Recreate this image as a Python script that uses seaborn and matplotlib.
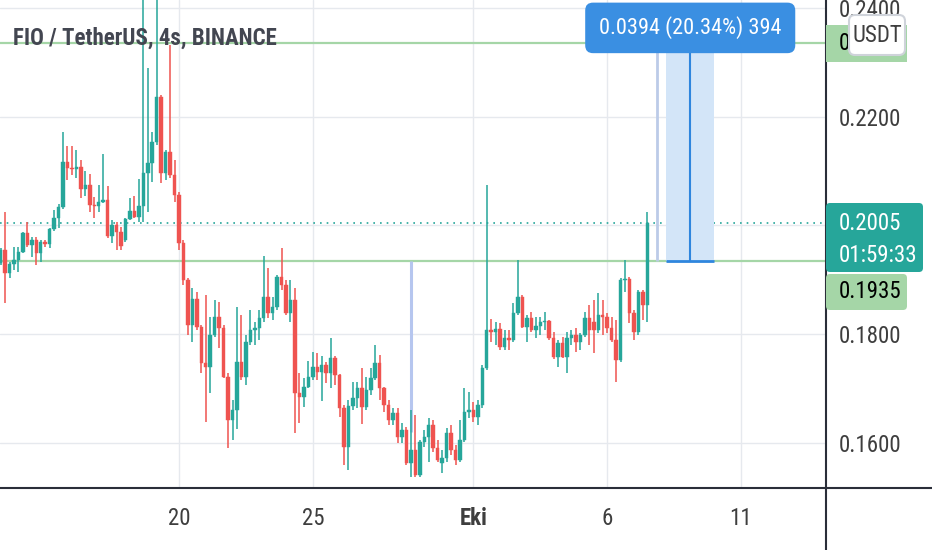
import numpy as np
import pandas as pd
import matplotlib
matplotlib.use("Agg")
import matplotlib.pyplot as plt
from matplotlib.patches import FancyBboxPatch, Rectangle
from matplotlib.lines import Line2D
from matplotlib import font_manager
import seaborn as sns

# 4 saatlik mumlar, FIO/USDT
opens = [0.1931, 0.1954, 0.1912, 0.1929, 0.1936, 0.1951, 0.1986, 0.1964, 0.1973, 0.1949,
         0.1969, 0.1966, 0.1993, 0.2013, 0.2034, 0.2116, 0.2105, 0.2103, 0.2107, 0.2067,
         0.2074, 0.2037, 0.2036, 0.2043, 0.2046, 0.1980, 0.2000, 0.1988, 0.1973, 0.2012,
         0.2026, 0.2015, 0.2036, 0.2096, 0.2115, 0.2153, 0.2236, 0.2096, 0.2135, 0.2092,
         0.2056, 0.1967, 0.1899, 0.1817, 0.1864, 0.1813, 0.1747, 0.1739, 0.1798, 0.1831,
         0.1811, 0.1721, 0.1642, 0.1660, 0.1749, 0.1721, 0.1785, 0.1807, 0.1811, 0.1829,
         0.1868, 0.1839, 0.1850, 0.1905, 0.1890, 0.1839, 0.1863, 0.1692, 0.1684, 0.1703,
         0.1721, 0.1739, 0.1730, 0.1743, 0.1728, 0.1756, 0.1724, 0.1664, 0.1592, 0.1668,
         0.1682, 0.1701, 0.1666, 0.1697, 0.1719, 0.1747, 0.1701, 0.1669, 0.1642, 0.1655,
         0.1611, 0.1623, 0.1563, 0.1587, 0.1541, 0.1601, 0.1611, 0.1633, 0.1590, 0.1563,
         0.1572, 0.1618, 0.1587, 0.1568, 0.1605, 0.1657, 0.1660, 0.1647, 0.1669, 0.1738,
         0.1807, 0.1804, 0.1809, 0.1776, 0.1793, 0.1789, 0.1839, 0.1868, 0.1813, 0.1829,
         0.1807, 0.1815, 0.1822, 0.1824, 0.1793, 0.1758, 0.1784, 0.1758, 0.1793, 0.1798,
         0.1785, 0.1798, 0.1829, 0.1822, 0.1807, 0.1835, 0.1831, 0.1811, 0.1789, 0.1752,
         0.1899, 0.1901, 0.1839, 0.1804, 0.1877, 0.1853]
highs = [0.1958, 0.2024, 0.1932, 0.1960, 0.1960, 0.1988, 0.2006, 0.1978, 0.1978, 0.1973,
         0.1973, 0.1995, 0.2028, 0.2039, 0.2172, 0.2146, 0.2146, 0.2138, 0.2120, 0.2100,
         0.2094, 0.2052, 0.2074, 0.2131, 0.2072, 0.2010, 0.2006, 0.1997, 0.2013, 0.2050,
         0.2054, 0.2085, 0.2450, 0.2289, 0.2172, 0.2460, 0.2240, 0.2138, 0.2332, 0.2120,
         0.2061, 0.1973, 0.1903, 0.1885, 0.1877, 0.1817, 0.1872, 0.1831, 0.1863, 0.1859,
         0.1817, 0.1728, 0.1679, 0.1850, 0.1835, 0.1798, 0.1844, 0.1822, 0.1844, 0.1943,
         0.1921, 0.1868, 0.1909, 0.1958, 0.1899, 0.1899, 0.1885, 0.1728, 0.1719, 0.1750,
         0.1767, 0.1765, 0.1760, 0.1749, 0.1793, 0.1760, 0.1726, 0.1669, 0.1679, 0.1712,
         0.1712, 0.1738, 0.1721, 0.1738, 0.1780, 0.1761, 0.1703, 0.1679, 0.1664, 0.1664,
         0.1636, 0.1629, 0.1660, 0.1651, 0.1605, 0.1623, 0.1646, 0.1642, 0.1605, 0.1587,
         0.1627, 0.1633, 0.1596, 0.1642, 0.1701, 0.1693, 0.1675, 0.1679, 0.1743, 0.2074,
         0.1828, 0.1822, 0.1820, 0.1807, 0.1807, 0.1857, 0.1936, 0.1872, 0.1835, 0.1840,
         0.1831, 0.1831, 0.1840, 0.1826, 0.1804, 0.1789, 0.1795, 0.1804, 0.1807, 0.1811,
         0.1802, 0.1840, 0.1853, 0.1863, 0.1875, 0.1863, 0.1839, 0.1831, 0.1826, 0.1903,
         0.1936, 0.1905, 0.1844, 0.1881, 0.1881, 0.2024]
lows = [0.1927, 0.1857, 0.1903, 0.1918, 0.1914, 0.1949, 0.1960, 0.1942, 0.1927, 0.1932,
        0.1960, 0.1958, 0.1990, 0.1995, 0.2030, 0.2083, 0.2092, 0.2087, 0.2050, 0.2054,
        0.2024, 0.2013, 0.2024, 0.2041, 0.1977, 0.1967, 0.1954, 0.1954, 0.1969, 0.2010,
        0.2013, 0.2006, 0.2006, 0.2024, 0.2080, 0.2148, 0.2078, 0.2083, 0.2087, 0.2043,
        0.1954, 0.1890, 0.1798, 0.1785, 0.1807, 0.1728, 0.1638, 0.1692, 0.1795, 0.1774,
        0.1719, 0.1590, 0.1605, 0.1625, 0.1715, 0.1706, 0.1780, 0.1780, 0.1789, 0.1822,
        0.1829, 0.1826, 0.1844, 0.1881, 0.1835, 0.1822, 0.1618, 0.1636, 0.1666, 0.1701,
        0.1715, 0.1715, 0.1677, 0.1710, 0.1701, 0.1706, 0.1647, 0.1559, 0.1550, 0.1660,
        0.1664, 0.1634, 0.1660, 0.1688, 0.1715, 0.1679, 0.1657, 0.1633, 0.1633, 0.1600,
        0.1600, 0.1559, 0.1537, 0.1537, 0.1537, 0.1592, 0.1565, 0.1583, 0.1565, 0.1544,
        0.1565, 0.1577, 0.1559, 0.1565, 0.1601, 0.1646, 0.1638, 0.1633, 0.1664, 0.1734,
        0.1785, 0.1780, 0.1771, 0.1771, 0.1771, 0.1785, 0.1835, 0.1811, 0.1785, 0.1804,
        0.1793, 0.1798, 0.1807, 0.1789, 0.1754, 0.1739, 0.1756, 0.1728, 0.1780, 0.1767,
        0.1771, 0.1795, 0.1780, 0.1765, 0.1802, 0.1798, 0.1802, 0.1785, 0.1712, 0.1749,
        0.1877, 0.1820, 0.1789, 0.1798, 0.1826, 0.1822]
closes = [0.1954, 0.1912, 0.1929, 0.1936, 0.1951, 0.1986, 0.1964, 0.1973, 0.1949, 0.1969,
          0.1966, 0.1993, 0.2013, 0.2034, 0.2116, 0.2105, 0.2103, 0.2107, 0.2067, 0.2074,
          0.2037, 0.2036, 0.2043, 0.2046, 0.1980, 0.2000, 0.1988, 0.1962, 0.2012, 0.2026,
          0.2015, 0.2036, 0.2096, 0.2115, 0.2153, 0.2236, 0.2096, 0.2135, 0.2092, 0.2056,
          0.1967, 0.1899, 0.1817, 0.1864, 0.1813, 0.1747, 0.1739, 0.1798, 0.1831, 0.1811,
          0.1721, 0.1642, 0.1660, 0.1749, 0.1721, 0.1785, 0.1807, 0.1811, 0.1829, 0.1868,
          0.1839, 0.1850, 0.1905, 0.1890, 0.1839, 0.1863, 0.1692, 0.1684, 0.1703, 0.1721,
          0.1739, 0.1730, 0.1743, 0.1728, 0.1756, 0.1724, 0.1664, 0.1592, 0.1668, 0.1682,
          0.1701, 0.1666, 0.1697, 0.1719, 0.1747, 0.1701, 0.1669, 0.1642, 0.1655, 0.1611,
          0.1623, 0.1563, 0.1587, 0.1541, 0.1601, 0.1611, 0.1633, 0.1590, 0.1568, 0.1572,
          0.1618, 0.1587, 0.1568, 0.1605, 0.1657, 0.1660, 0.1647, 0.1669, 0.1738, 0.1807,
          0.1804, 0.1809, 0.1776, 0.1793, 0.1789, 0.1839, 0.1868, 0.1813, 0.1829, 0.1807,
          0.1815, 0.1822, 0.1824, 0.1793, 0.1758, 0.1784, 0.1758, 0.1793, 0.1798, 0.1785,
          0.1798, 0.1829, 0.1807, 0.1807, 0.1835, 0.1831, 0.1811, 0.1789, 0.1752, 0.1899,
          0.1901, 0.1839, 0.1804, 0.1877, 0.1853, 0.2005]

last_candle = "2021-10-07 12:00"
tick_dates = ["2021-09-20", "2021-09-25", "2021-10-01", "2021-10-06", "2021-10-11"]
tick_labels = ["20", "25", "Eki", "6", "11"]
price_ticks = [0.16, 0.18, 0.20, 0.22, 0.24]

level_top = 0.2335
level_base = 0.1935
last_price = 0.2005
measure_top = 0.2329
measure_text = "0.0394 (20.34%) 394"

GREEN = "#26a69a"
RED = "#ef5350"
LEVEL = "#a5d6a7"
BLUE = "#2f86de"

sns.set_theme(style="white")
names = {f.name for f in font_manager.fontManager.ttflist}
FONT = next((n for n in ["Liberation Sans Narrow", "Roboto Condensed"] if n in names), None)
if FONT is None:
    FONT = "DejaVu Sans"
    plt.rcParams["font.stretch"] = "condensed"
plt.rcParams["font.family"] = [FONT, "DejaVu Sans"]

df = pd.DataFrame({"open": opens, "high": highs, "low": lows, "close": closes})
df["time"] = pd.date_range(end=last_candle, periods=len(df), freq="4h")
up = df["close"] >= df["open"]
col = np.where(up, GREEN, RED)

W, H = 932, 550
fig = plt.figure(figsize=(W / 100, H / 100), dpi=100)
ax = fig.add_axes([0, 62 / H, 826 / W, 488 / H])

# mumlar
ax.vlines(df["time"], df["low"], df["high"], colors=col, lw=1.1, zorder=3)
body = (df["close"] - df["open"]).abs().clip(lower=0.00012)
ax.bar(df["time"], body, bottom=np.minimum(df["open"], df["close"]), width=0.13,
       color=col, edgecolor=col, linewidth=0.3, zorder=4)

# yatay seviyeler
ax.axhline(level_top, color=LEVEL, lw=1.6, zorder=2)
ax.axhline(level_base, color=LEVEL, lw=1.6, zorder=2)
ax.axhline(last_price, color=GREEN, lw=1.2, ls=(0, (1, 3)), zorder=2)

# dikey cizgiler
ax.vlines(pd.Timestamp("2021-09-28 16:00"), 0.1620, level_base, color="#b6c6ef", lw=2.2, zorder=2)
ax.vlines(pd.Timestamp("2021-10-07 20:40"), level_base, measure_top, color="#bccbe8", lw=2, zorder=2)

# olcum araci
t0, t1 = pd.Timestamp("2021-10-08 04:50"), pd.Timestamp("2021-10-10 00:00")
tm = pd.Timestamp("2021-10-09 02:30")
ax.fill_between([t0, t1], level_base, measure_top, color="#d3e5f8", lw=0, zorder=2)
ax.vlines(tm, level_base, measure_top, color=BLUE, lw=1.5, zorder=5)
ax.hlines(level_base, t0, t1, color=BLUE, lw=2, zorder=5)
ax.text(tm, 0.2363, measure_text, ha="center", va="center", color="white", fontsize=16, zorder=6,
        bbox=dict(boxstyle="round,pad=0.62,rounding_size=0.35", fc="#3a8fe2", ec="none"))

ax.set_xlim(pd.Timestamp("2021-09-13 07:28"), pd.Timestamp("2021-10-14 04:16"))
ax.set_ylim(0.15168, 0.24143)

ax.set_xticks([pd.Timestamp(d) for d in tick_dates])
ax.set_xticklabels(tick_labels)
for lab in ax.get_xticklabels():
    if lab.get_text() == "Eki":
        lab.set_fontweight("bold")
ax.yaxis.tick_right()
ax.set_yticks(price_ticks)
# 0.2000 etiketi son fiyat kutusunun altinda kaliyor
ax.set_yticklabels(["" if abs(p - last_price) < 0.002 else f"{p:.4f}" for p in price_ticks])
ax.tick_params(axis="x", length=0, pad=14, labelsize=16.5, labelcolor="#3e3e3e")
ax.tick_params(axis="y", length=0, pad=9.5, labelsize=16.5, labelcolor="#3e3e3e")
ax.grid(True, color="#e6e9ee", lw=1)
for s in ax.spines.values():
    s.set_visible(False)


def fx(x):
    return x / W


def fy(y):
    return 1 - y / H


# eksen cizgileri
fig.add_artist(Line2D([0, 1], [fy(488), fy(488)], color="#2a2e39", lw=1.5))
fig.add_artist(Line2D([fx(826), fx(826)], [0, 1], color="#2a2e39", lw=1.5))

# baslik
fig.text(fx(13), fy(38), "FIO / TetherUS, 4s, BINANCE", ha="left", va="center",
         fontsize=16.5, fontweight="bold", color="#434651")

# fiyat etiketleri
asp = W / H
fig.add_artist(Rectangle((fx(826), fy(62)), 81 / W, 37 / H, fc=LEVEL, ec="none", zorder=2))
fig.text(fx(839), fy(44), f"{level_top:.4f}", ha="left", va="center", fontsize=16.5,
         color="black", zorder=3)
fig.add_artist(FancyBboxPatch((fx(849), fy(55)), 56 / W, 40 / H, transform=fig.transFigure,
                              boxstyle=f"round,pad=0,rounding_size={6 / W}", mutation_aspect=asp,
                              fc="white", ec="#cfd3da", lw=1.5, zorder=4))
fig.text(fx(877), fy(35), "USDT", ha="center", va="center", fontsize=16.5, color="#3e3e3e", zorder=5)

fig.add_artist(FancyBboxPatch((fx(826), fy(272)), 97 / W, 69 / H, transform=fig.transFigure,
                              boxstyle=f"round,pad=0,rounding_size={4 / W}", mutation_aspect=asp,
                              fc=GREEN, ec="none", zorder=2))
fig.text(fx(839), fy(223), f"{last_price:.4f}", ha="left", va="center", fontsize=16.5,
         color="white", zorder=3)
fig.text(fx(839), fy(255), "01:59:33", ha="left", va="center", fontsize=16.5, color="white", zorder=3)

fig.add_artist(FancyBboxPatch((fx(826), fy(310)), 81 / W, 36 / H, transform=fig.transFigure,
                              boxstyle=f"round,pad=0,rounding_size={4 / W}", mutation_aspect=asp,
                              fc=LEVEL, ec="none", zorder=2))
fig.text(fx(839), fy(292), f"{level_base:.4f}", ha="left", va="center", fontsize=16.5,
         color="black", zorder=3)

fig.savefig("out.png", dpi=100)
